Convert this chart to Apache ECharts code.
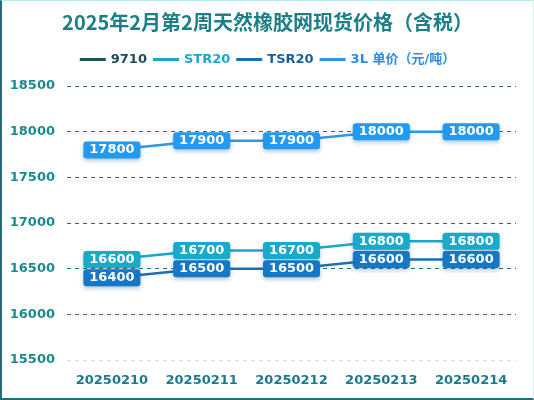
<!DOCTYPE html>
<html><head><meta charset="utf-8">
<script src="https://cdn.jsdelivr.net/npm/echarts@6/dist/echarts.min.js"></script>
<style>
html,body{margin:0;padding:0;background:#fff;}
#c{width:534px;height:400px;box-sizing:border-box;border-left:2px solid #1d6f7e;border-bottom:2px solid #1d6f7e;border-top:1px solid #b8eef2;border-right:1px solid #d8f3f5;}
</style></head><body>
<div id="c"></div>
<script>
const categories = ['20250210','20250211','20250212','20250213','20250214'];
const s9710 = [];
const sSTR20 = [16600,16700,16700,16800,16800];
const sTSR20 = [16400,16500,16500,16600,16600];
const s3L = [17800,17900,17900,18000,18000];
const yTicks = [15500,16000,16500,17000,17500,18000,18500];

const chart = echarts.init(document.getElementById('c'));
const font = '"DejaVu Sans", "Noto Sans CJK SC", sans-serif';
function lab(bg){
  return {show:true, position:'inside', color:'#fff', fontSize:13, fontWeight:'bold', fontFamily:font,
    backgroundColor:bg, borderRadius:3, padding:[2,7,2,7], width:43, align:'center',
    shadowColor:'rgba(0,80,140,0.35)', shadowBlur:4, shadowOffsetY:2};
}
function ser(name, data, color, bg){
  return {name, type:'line', data, symbol:'circle', symbolSize:1, showSymbol:true,
    lineStyle:{color, width:2.5}, itemStyle:{color},
    label: bg ? lab(bg) : {show:false}};
}
chart.setOption({
  animation:false,
  title:{text:'2025年2月第2周天然橡胶网现货价格（含税）', left:'center', top:6,
    textStyle:{fontSize:20, fontWeight:'bold', fontFamily:'"Noto Sans CJK SC", sans-serif', color:'#1a7f86'}},
  legend:{top:47, left:'center', itemWidth:26, itemHeight:3, itemGap:6, icon:'rect',
    textStyle:{fontSize:13, fontWeight:'bold', fontFamily:font},
    data:[
      {name:'9710', textStyle:{color:'#1e4a5a'}},
      {name:'STR20', textStyle:{color:'#1ea6cc'}},
      {name:'TSR20', textStyle:{color:'#1a5f9c'}},
      {name:'3L 单价（元/吨）', textStyle:{color:'#2a8de0'}}
    ]},
  grid:{left:65, right:17, top:85, bottom:38},
  xAxis:{type:'category', data:categories, boundaryGap:true,
    axisLine:{show:false}, axisTick:{show:false},
    axisLabel:{interval:0, color:'#1a7a8c', fontSize:13, fontWeight:'bold', fontFamily:font, margin:14}},
  yAxis:{type:'value', min:yTicks[0], max:yTicks[yTicks.length-1], interval:500,
    axisLine:{show:false}, axisTick:{show:false},
    axisLabel:{formatter:v=>String(v), color:'#1a8a8c', fontSize:13, fontWeight:'bold', fontFamily:font, margin:12},
    splitLine:{lineStyle:{type:[4,4], color:['#d4d8d8','#2a6f78','#2a6f78','#2a6f78','#2a6f78','#2a6f78','#2a6f78'], width:1}}},
  series:[
    ser('9710', s9710, '#1e4f5f', null),
    ser('STR20', sSTR20, '#1ca6c8', '#19a9c9'),
    ser('TSR20', sTSR20, '#1a70b6', '#1677c4'),
    ser('3L 单价（元/吨）', s3L, '#2b98ea', '#2399f0')
  ]
});
</script></body></html>
